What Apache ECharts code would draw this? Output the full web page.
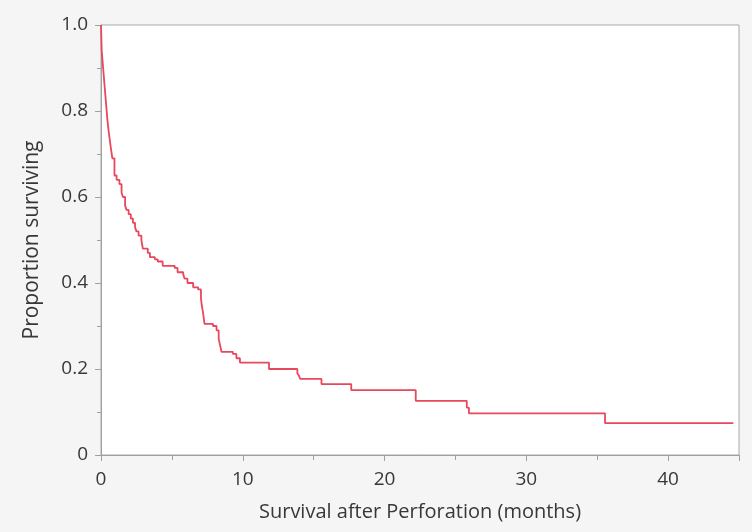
<!DOCTYPE html>
<html>
<head>
<meta charset="utf-8">
<script src="https://cdn.jsdelivr.net/npm/echarts@6/dist/echarts.min.js"></script>
<style>
  html, body { margin: 0; padding: 0; background: #f5f5f5; }
  #chart { width: 752px; height: 532px; }
</style>
</head>
<body>
<div id="chart"></div>
<script>
// Kaplan-Meier step curve
const months = [0, 0.05, 0.15, 0.25, 0.35, 0.45, 0.55, 0.67, 0.8, 0.95, 1.1, 1.3, 1.45, 1.55, 1.7, 1.8,
    1.95, 2.1, 2.25, 2.4, 2.5, 2.65, 2.85, 2.95, 3.3, 3.45, 3.8, 4.0, 4.35, 5.2, 5.4, 5.8, 5.9, 6.1,
    6.5, 6.85, 7.05, 7.1, 7.2, 7.3, 7.9, 8.15, 8.3, 8.4, 8.5, 9.3, 9.55, 9.8, 11.85, 13.85, 13.95,
    14.05, 15.55, 17.65, 22.2, 25.8, 25.95, 35.55, 44.6];
const surviving = [1.0, 0.94, 0.9, 0.86, 0.82, 0.78, 0.75, 0.72, 0.69, 0.65, 0.64, 0.63, 0.61, 0.6, 0.58, 0.57,
    0.56, 0.55, 0.54, 0.53, 0.52, 0.51, 0.5, 0.48, 0.47, 0.46, 0.455, 0.45, 0.44, 0.435, 0.425, 0.42, 0.41, 0.4,
    0.39, 0.385, 0.365, 0.35, 0.33, 0.305, 0.3, 0.29, 0.27, 0.255, 0.24, 0.235, 0.225, 0.215, 0.2, 0.19, 0.185,
    0.177, 0.165, 0.151, 0.126, 0.11, 0.097, 0.074, 0.074];

const chart = echarts.init(document.getElementById('chart'));

const axisText = { color: '#383838', fontSize: 19, fontFamily: 'Open Sans' };

chart.setOption({
    backgroundColor: '#f5f5f5',
    animation: false,
    grid: {
        left: 101, right: 13, top: 25, bottom: 77,
        show: true, backgroundColor: '#fff', borderColor: '#a8a8a8', borderWidth: 1
    },
    xAxis: {
        type: 'value', min: 0, max: 45, interval: 10,
        name: 'Survival after Perforation (months)',
        nameLocation: 'middle', nameGap: 47,
        nameTextStyle: Object.assign({}, axisText, { fontSize: 20 }),
        axisLine: { lineStyle: { color: '#a0a0a0' } },
        axisTick: { show: true, length: 6, lineStyle: { color: '#a0a0a0' } },
        minorTick: { show: true, splitNumber: 2, length: 5, lineStyle: { color: '#a0a0a0' } },
        axisLabel: Object.assign({ margin: 15, showMaxLabel: false }, axisText),
        splitLine: { show: false }
    },
    yAxis: {
        type: 'value', min: 0, max: 1, interval: 0.2,
        name: 'Proportion surviving',
        nameLocation: 'middle', nameGap: 58,
        nameTextStyle: Object.assign({}, axisText, { fontSize: 21 }),
        axisLine: { show: true, lineStyle: { color: '#a0a0a0' } },
        axisTick: { show: true, length: 6, lineStyle: { color: '#a0a0a0' } },
        minorTick: { show: true, splitNumber: 2, length: 4, lineStyle: { color: '#a0a0a0' } },
        axisLabel: Object.assign({
            margin: 13,
            formatter: v => v === 0 ? '0' : v.toFixed(1)
        }, axisText),
        splitLine: { show: false }
    },
    series: [{
        type: 'line',
        step: 'end',
        symbol: 'none',
        data: months.map((m, i) => [m, surviving[i]]),
        lineStyle: { color: '#e8475c', width: 1.8 }
    }]
});
</script>
</body>
</html>
